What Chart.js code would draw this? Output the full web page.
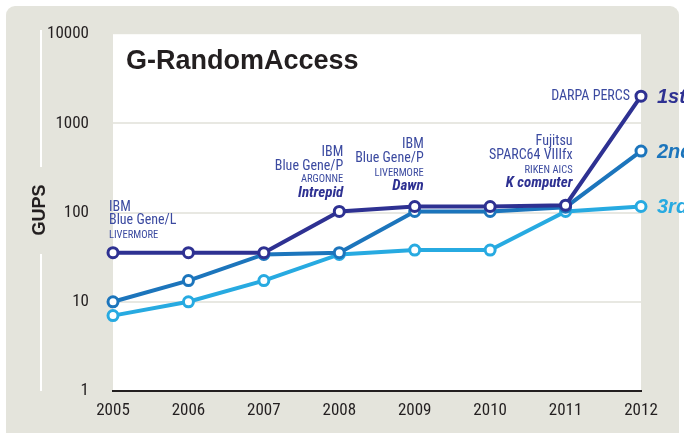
<!DOCTYPE html>
<html lang="en">
<head>
<meta charset="UTF-8">
<title>G-RandomAccess</title>
<style>
  html, body { margin: 0; padding: 0; background: #fff; }
  #wrap { width: 684px; height: 433px; }
</style>
</head>
<body>
<div id="wrap"><canvas id="chart" width="684" height="433"></canvas></div>
<script src="https://cdn.jsdelivr.net/npm/chart.js"></script>
<script>
    const years = ['2005', '2006', '2007', '2008', '2009', '2010', '2011', '2012'];
    const yTicks = [1, 10, 100, 1000, 10000];
    const first = [35.5, 35.5, 35.5, 103, 117, 117, 121, 2021];
    const second = [10, 17.3, 34, 35.5, 103, 103, 115, 490];
    const third = [7, 10, 17.3, 34, 38, 38, 103, 117];
    const rankLabels = ['1st', '2nd', '3rd'];

    // machine notes: year index, series value, lines
    const notes = [
        { at: 0, value: first[0], align: 'left', dx: -4, lines: [['IBM', 'n', -45], ['Blue Gene/L', 'n', -32], ['LIVERMORE', 's', -17]] },
        { at: 3, value: first[3], align: 'right', dx: 4, lines: [['IBM', 'n', -59], ['Blue Gene/P', 'n', -45], ['ARGONNE', 's', -32], ['Intrepid', 'b', -18]] },
        { at: 4, value: first[4], align: 'right', dx: 9, lines: [['IBM', 'n', -62], ['Blue Gene/P', 'n', -48], ['LIVERMORE', 's', -33], ['Dawn', 'b', -20]] },
        { at: 6, value: first[6], align: 'right', dx: 7, lines: [['Fujitsu', 'n', -64], ['SPARC64 VIIIfx', 'n', -50], ['RIKEN AICS', 's', -35], ['K computer', 'b', -22]] },
        { at: 7, value: first[7], align: 'right', dx: -11, lines: [['DARPA PERCS', 'n', 0]] }
    ];

    const colors = ['#2e3192', '#1c75bc', '#27aae1'];
    const narrow = '"Roboto Condensed", "DejaVu Sans Condensed", sans-serif';

    const backdrop = {
        id: 'backdrop',
        beforeDraw(chart) {
            const ctx = chart.ctx;
            const a = chart.chartArea;
            ctx.save();
            ctx.fillStyle = '#fff';
            ctx.fillRect(0, 0, chart.width, chart.height);
            ctx.fillStyle = '#e4e4dc';
            ctx.beginPath();
            ctx.roundRect(6, 6, 673, 440, 9);
            ctx.fill();
            ctx.fillStyle = '#fff';
            ctx.fillRect(a.left, a.top, a.right - a.left, a.bottom - a.top);
            // white rule beside the axis name
            ctx.fillRect(40, 30, 2, 137);
            ctx.fillRect(40, 254, 2, 137);
            ctx.restore();
        },
        afterDraw(chart) {
            const ctx = chart.ctx;
            const a = chart.chartArea;
            const xs = chart.scales.x, ys = chart.scales.y;
            ctx.save();
            ctx.fillStyle = '#231f20';
            ctx.font = 'bold 27px "Liberation Sans", Arial, sans-serif';
            ctx.textBaseline = 'middle';
            ctx.fillText('G-RandomAccess', a.left + 13, 62);

            ctx.translate(40, 210);
            ctx.rotate(-Math.PI / 2);
            ctx.textAlign = 'center';
            ctx.font = 'bold 18px "Liberation Sans", Arial, sans-serif';
            ctx.fillText('GUPS', 0, 0);
            ctx.restore();

            ctx.save();
            ctx.textBaseline = 'middle';
            notes.forEach(n => {
                const px = xs.getPixelForValue(n.at);
                const py = ys.getPixelForValue(n.value);
                ctx.textAlign = n.align;
                n.lines.forEach(([t, kind, dy]) => {
                    if (kind === 'n') { ctx.font = '14px ' + narrow; ctx.fillStyle = '#3b4aa0'; }
                    else if (kind === 's') { ctx.font = '10.5px ' + narrow; ctx.fillStyle = '#3b4aa0'; }
                    else { ctx.font = 'italic bold 15px ' + narrow; ctx.fillStyle = '#2e3192'; }
                    ctx.fillText(t, px + n.dx, py + dy);
                });
            });
            chart.data.datasets.forEach((ds, i) => {
                const py = ys.getPixelForValue(ds.data[ds.data.length - 1]);
                ctx.textAlign = 'left';
                ctx.font = 'italic bold 20px "Liberation Sans", Arial, sans-serif';
                ctx.fillStyle = colors[i];
                ctx.fillText(rankLabels[i], a.right + 16, py + 1);
            });
            ctx.restore();
        }
    };

    const mkSet = (label, data, c) => ({
        label: label,
        data: data,
        borderColor: c,
        backgroundColor: '#fff',
        borderWidth: 4,
        pointRadius: 5,
        pointBorderWidth: 3,
        pointBackgroundColor: '#fff',
        pointBorderColor: c,
        tension: 0,
        clip: false
    });

    new Chart(document.getElementById('chart'), {
        type: 'line',
        data: {
            labels: years,
            datasets: [
                mkSet(rankLabels[0], first, colors[0]),
                mkSet(rankLabels[1], second, colors[1]),
                mkSet(rankLabels[2], third, colors[2])
            ]
        },
        options: {
            responsive: false,
            animation: false,
            events: [],
            layout: { padding: { left: 6, top: 28, right: 43, bottom: 0 } },
            plugins: { legend: { display: false }, tooltip: { enabled: false } },
            scales: {
                x: {
                    offset: false,
                    grid: { display: false, drawTicks: false },
                    border: { display: true, color: '#231f20', width: 2 },
                    ticks: {
                        color: '#231f20', padding: 10, maxRotation: 0,
                        font: { family: narrow, size: 17 }
                    },
                    afterFit(s) { s.height = 42; }
                },
                y: {
                    type: 'logarithmic',
                    min: 1,
                    max: 10000,
                    afterBuildTicks(s) { s.ticks = yTicks.map(v => ({ value: v })); },
                    grid: {
                        drawTicks: false,
                        lineWidth: 2,
                        color: c => (c.tick && (c.tick.value === 1 || c.tick.value === 10000)) ? 'rgba(0,0,0,0)' : '#e8e8e2'
                    },
                    border: { display: false },
                    ticks: {
                        color: '#231f20', padding: 24,
                        font: { family: narrow, size: 17 },
                        callback: v => String(v)
                    },
                    afterFit(s) { s.width = 107; }
                }
            }
        },
        plugins: [backdrop]
    });
</script>
</body>
</html>
